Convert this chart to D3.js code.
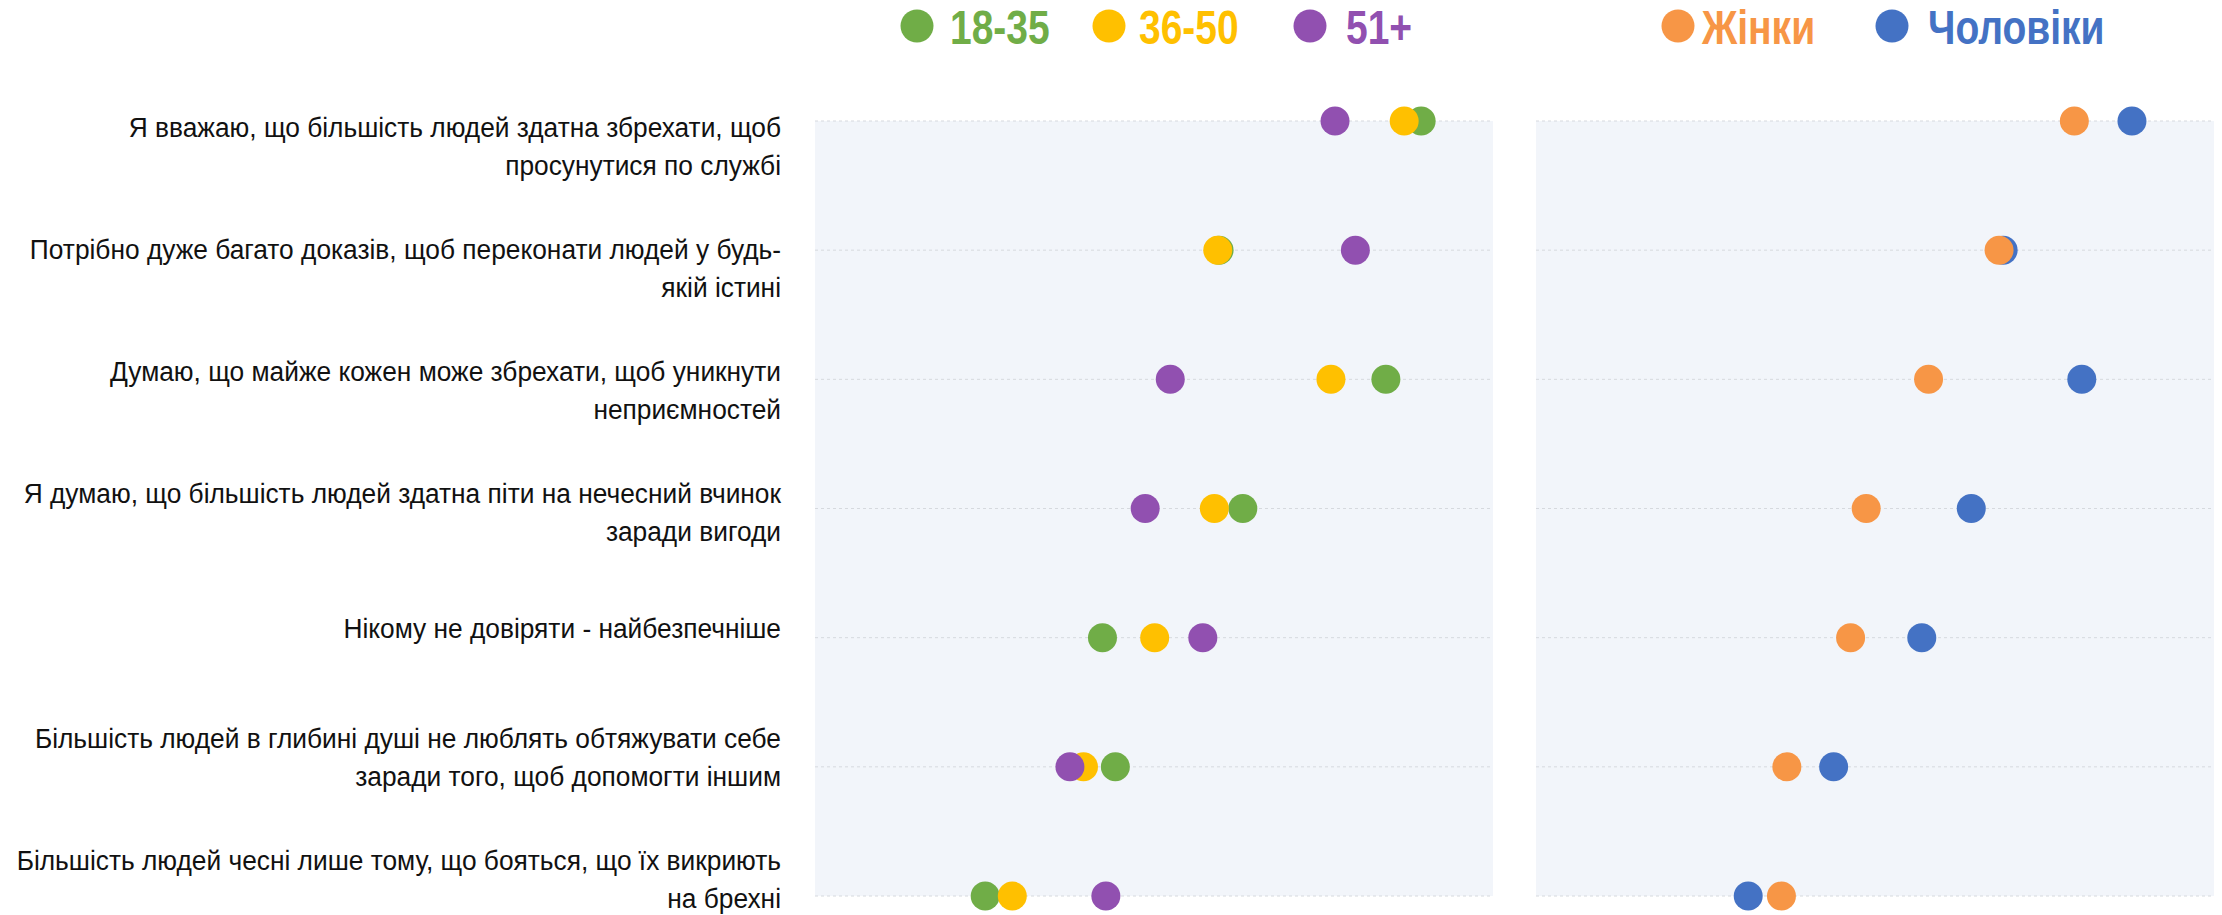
<!DOCTYPE html>
<html>
<head>
<meta charset="utf-8">
<style>
  body { margin: 0; background: #fff; }
  svg { display: block; font-family: "Liberation Sans", Arial, sans-serif; }
</style>
</head>
<body>
<div id="chart"></div>
<script src="https://d3js.org/d3.v7.min.js"></script>
<script>
  // statements (line breaks as in the original)
  const statements = [
    "Я вважаю, що більшість людей здатна збрехати, щоб\nпросунутися по службі",
    "Потрібно дуже багато доказів, щоб переконати людей у будь-\nякій істині",
    "Думаю, що майже кожен може збрехати, щоб уникнути\nнеприємностей",
    "Я думаю, що більшість людей здатна піти на нечесний вчинок\nзаради вигоди",
    "Нікому не довіряти - найбезпечніше",
    "Більшість людей в глибині душі не люблять обтяжувати себе\nзаради того, щоб допомогти іншим",
    "Більшість людей чесні лише тому, що бояться, що їх викриють\nна брехні"
  ];

  // age groups, % agree
  const ageNames = ["18-35", "36-50", "51+"];
  const age18_35 = [89.4, 59.6, 84.2, 63.1, 42.4, 44.3, 25.1];
  const age36_50 = [86.9, 59.4, 76.1, 58.9, 50.1, 39.6, 29.1];
  const age51p   = [76.7, 79.7, 52.4, 48.7, 57.2, 37.6, 42.9];

  // gender, % agree
  const genderNames = ["Жінки", "Чоловіки"];
  const women = [79.4, 68.3, 57.9, 48.7, 46.4, 37.0, 36.2];
  const men   = [87.9, 68.9, 80.5, 64.2, 56.9, 43.9, 31.3];

  const W = 2222, H = 915;
  const svg = d3.select("#chart").append("svg")
    .attr("width", W)
    .attr("height", H);

  const rows = d3.range(statements.length);
  const y = d3.scalePoint().domain(rows).range([121, 896]);
  const yLabel = d3.scalePoint().domain(rows).range([146, 879]);

  const xAge = d3.scaleLinear().domain([0, 100]).range([815, 1493]);
  const xSex = d3.scaleLinear().domain([0, 100]).range([1536, 2214]);

  const colors = {
    "18-35": "#70ad47", "36-50": "#ffc000", "51+": "#9150b0",
    "Жінки": "#f79646", "Чоловіки": "#4472c4"
  };

  // panels
  [xAge, xSex].forEach(x => {
    const [x0, x1] = x.range();
    svg.append("rect")
      .attr("x", x0).attr("y", y(0))
      .attr("width", x1 - x0).attr("height", y(rows.length - 1) - y(0))
      .attr("fill", "#f2f5fa");
    svg.append("g").selectAll("line").data(rows).join("line")
      .attr("x1", x0).attr("x2", x1)
      .attr("y1", d => y(d)).attr("y2", d => y(d))
      .attr("stroke", "#d6d9de")
      .attr("stroke-width", 1)
      .attr("stroke-dasharray", "3,3");
  });

  // category labels (text in the original is slightly condensed)
  const lab = svg.append("g")
    .attr("font-size", 28)
    .attr("fill", "#111")
    .attr("text-anchor", "end");
  statements.forEach((s, i) => {
    const lines = s.split("\n");
    const shift = lines.length === 1 ? -6 : 0;
    const t = lab.append("text")
      .attr("transform", `translate(781,${yLabel(i) + shift}) scale(0.94,1)`);
    lines.forEach((ln, k) => {
      t.append("tspan")
        .attr("x", 0)
        .attr("y", (k - (lines.length - 1) / 2) * 38)
        .attr("dy", "0.35em")
        .text(ln);
    });
  });

  // dots
  const r = 14.5;
  function dots(values, name, x) {
    svg.append("g").selectAll("circle").data(values).join("circle")
      .attr("cx", d => x(d))
      .attr("cy", (d, i) => y(i))
      .attr("r", r)
      .attr("fill", colors[name]);
  }
  dots(age18_35, "18-35", xAge);
  dots(age36_50, "36-50", xAge);
  dots(age51p, "51+", xAge);
  dots(men, "Чоловіки", xSex);
  dots(women, "Жінки", xSex);

  // legends
  const legendPos = [
    { name: ageNames[0], cx: 917, tx: 950 },
    { name: ageNames[1], cx: 1109, tx: 1139 },
    { name: ageNames[2], cx: 1310, tx: 1346 },
    { name: genderNames[0], cx: 1678, tx: 1702 },
    { name: genderNames[1], cx: 1892, tx: 1928 }
  ];
  const leg = svg.append("g");
  legendPos.forEach(p => {
    leg.append("circle")
      .attr("cx", p.cx).attr("cy", 26)
      .attr("r", 16.5)
      .attr("fill", colors[p.name]);
    leg.append("text")
      .attr("transform", `translate(${p.tx},44) scale(0.8125,1)`)
      .attr("font-size", 48)
      .attr("font-weight", "bold")
      .attr("fill", colors[p.name])
      .text(p.name);
  });
</script>
</body>
</html>
